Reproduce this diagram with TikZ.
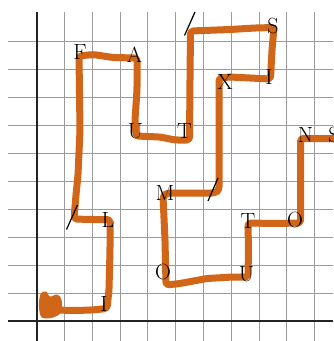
\documentclass[tikz,border=0pt]{standalone}
\usepackage{tikz}
\definecolor{brush}{RGB}{209,101,24}
\definecolor{gridgray}{RGB}{155,155,155}
\definecolor{axisgray}{RGB}{35,35,35}
\tikzset{
  gridline/.style={draw=gridgray, line width=0.9pt},
  axisline/.style={draw=axisgray, line width=1.8pt},
  stroke/.style={draw=brush, line width=7pt, line cap=round, line join=round, rounded corners=3pt},
  letter/.style={inner sep=0pt, font=\fontsize{22}{22}\selectfont, text=black},
  sep/.style={draw=black, line width=1.2pt}
}
\begin{document}
\begin{tikzpicture}[x=1pt,y=-1pt]
\fill[white] (0,0) rectangle (333,341);
\useasboundingbox (0,0) rectangle (333,341);
% grid
\foreach \k in {1,...,10} {
  \draw[gridline] ({36.7+27.8*\k},12) -- ({36.7+27.8*\k},341);
  \draw[gridline] (8,{321-28*\k}) -- (333,{321-28*\k});
}
% axes
\draw[axisline] (36.7,12) -- (36.7,341);
\draw[axisline] (8,321) -- (333,321);
% blob at start
\fill[brush] plot[smooth cycle, tension=0.6] coordinates {(40.5,294) (46,291.5) (50,296.5) (57,294.5) (61.5,299.5) (61,312) (53,317.5) (42,317.5) (39,307)};
% brush stroke
\draw[stroke] (55,310) -- (75,310.5) -- (92,310) -- (107,308.5) -- (109,290) -- (110,250) -- (110,219.5)
  -- (90,219.5) -- (74,219) -- (76,195) -- (78,175) -- (80,130) -- (79,56)
  -- (93,54.5) -- (113,57.5) -- (137,58) -- (137,90) -- (135,120) -- (136,136)
  -- (160,137) -- (175,140) -- (189.5,140) -- (190,80) -- (190.5,31)
  -- (230,29.5) -- (255,28) -- (274,27.5) -- (272,50) -- (270.5,79)
  -- (250,78) -- (230,77) -- (219,78) -- (219,120) -- (219,190) -- (215,193)
  -- (167,193) -- (163,196) -- (165,240) -- (166,285)
  -- (180,283.5) -- (207,278.5) -- (233,277) -- (248,277) -- (248.5,250) -- (248,223)
  -- (275,223.5) -- (300.5,223) -- (300.5,180) -- (300.5,138.5) -- (345,138.5);
% word separators
\draw[sep] (184.5,35.5) -- (195,12);
\draw[sep] (208,201) -- (218,178);
\draw[sep] (66.5,229.5) -- (77.5,205);
% letters
\node[letter] (i1) at (104,303.5) {I};
\node[letter] (l1) at (108,219.5) {L};
\node[letter] (f1) at (80,52.5) {F};
\node[letter] (a1) at (134.5,54.5) {A};
\node[letter] (u1) at (135.5,131.5) {U};
\node[letter] (t1) at (184.5,131.5) {T};
\node[letter] (s1) at (273,26) {S};
\node[letter] (i2) at (269,77) {I};
\node[letter] (x1) at (225,82) {X};
\node[letter] (m1) at (165,192.5) {M};
\node[letter] (o1) at (163,271.5) {O};
\node[letter] (u2) at (246.5,274.5) {U};
\node[letter] (t2) at (248,221.5) {T};
\node[letter] (o2) at (295,220) {O};
\node[letter] (n1) at (305.5,134.5) {N};
\node[letter] (s2) at (334,134.5) {S};
\end{tikzpicture}
\end{document}
